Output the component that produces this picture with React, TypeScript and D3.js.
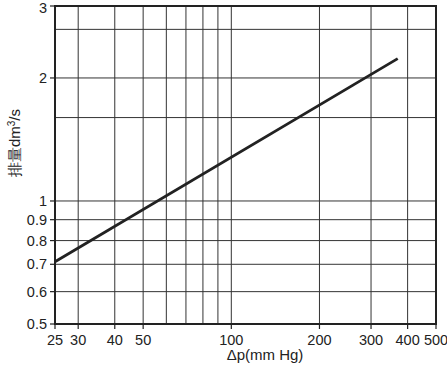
import * as d3 from "d3";

// pressure drop (mm Hg) vs displacement (dm3/s)
const pressure = [25, 370];
const flow = [0.71, 2.23];

const xTicks = [25, 30, 40, 50, 100, 200, 300, 400, 500];
const xGrid = [30, 40, 50, 60, 70, 80, 90, 100, 200, 300, 400];
const yTicks = [0.5, 0.6, 0.7, 0.8, 0.9, 1, 2, 3];
const yGrid = [0.6, 0.7, 0.8, 0.9, 1, 1.6, 2, 2.63];

const W = 447;
const H = 369;
const left = 55, right = 436, top = 6, bottom = 324;
const font = "'Liberation Sans', Arial, sans-serif";

const App = () => {
    const x = d3.scaleLog().domain([25, 500]).range([left, right]);
    const y = d3.scaleLog().domain([0.5, 3]).range([bottom, top]);

    const line = d3.line<number>()
        .x((d) => x(d))
        .y((_, i) => y(flow[i]));

    return (
        <svg width={W} height={H} style={{ position: "absolute", left: 0, top: 0 }}>
            <rect width={W} height={H} fill="#fff" />
            {xGrid.map((v) => (
                <line key={"gx" + v} x1={x(v)} x2={x(v)} y1={top} y2={bottom} stroke="#333" strokeWidth={1} />
            ))}
            {yGrid.map((v) => (
                <line key={"gy" + v} x1={left} x2={right} y1={y(v)} y2={y(v)} stroke="#333" strokeWidth={1} />
            ))}
            <rect x={left} y={top} width={right - left} height={bottom - top} fill="none" stroke="#222" strokeWidth={2} />

            <path d={line(pressure) || ""} fill="none" stroke="#222" strokeWidth={2.8} />

            {xTicks.map((v) => (
                <g key={"xt" + v}>
                    <line x1={x(v)} x2={x(v)} y1={bottom} y2={bottom + 5} stroke="#222" strokeWidth={1.2} />
                    <text x={x(v)} y={bottom + 21} textAnchor="middle" fontFamily={font} fontSize={14.5} fill="#222">{v}</text>
                </g>
            ))}
            {yTicks.map((v) => (
                <g key={"yt" + v}>
                    <line x1={left - 5} x2={left} y1={y(v)} y2={y(v)} stroke="#222" strokeWidth={1.2} />
                    <text x={left - 8} y={Math.max(y(v) + 5, 13)} textAnchor="end" fontFamily={font} fontSize={14.5} fill="#222">{v}</text>
                </g>
            ))}

            <text x={265} y={360} textAnchor="middle" fontFamily={font} fontSize={15} fill="#222">Δp(mm Hg)</text>
            <text transform={`translate(20, 143) rotate(-90)`} textAnchor="middle" fontFamily={font} fontSize={15} fill="#222">
                排量dm<tspan dy={-5} fontSize={10}>3</tspan><tspan dy={5}>/s</tspan>
            </text>
        </svg>
    );
};

export default App;
